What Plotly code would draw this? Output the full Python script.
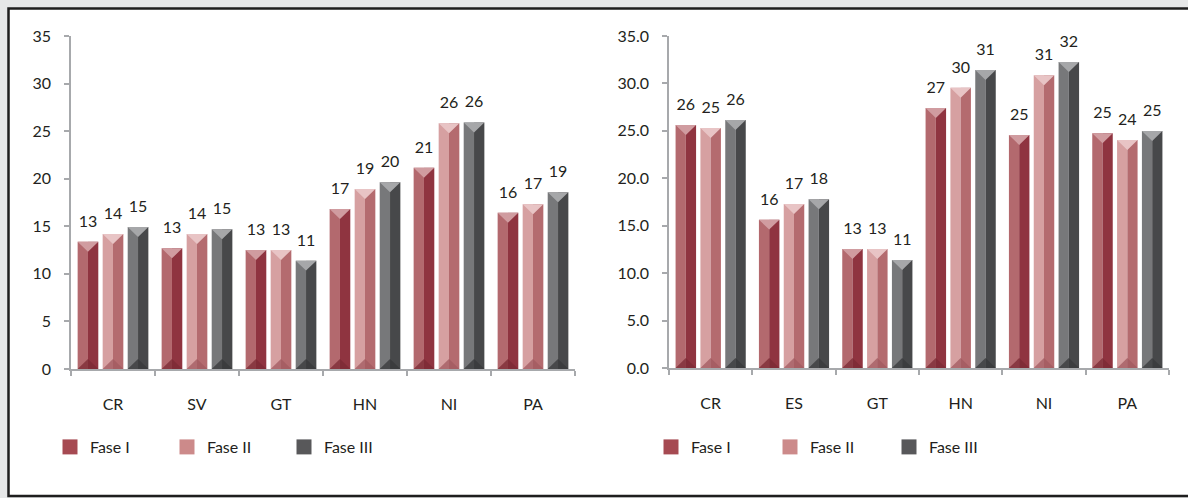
import plotly.graph_objects as go

# ---- data ---------------------------------------------------------------
paises_izq = ["CR", "SV", "GT", "HN", "NI", "PA"]
paises_der = ["CR", "ES", "GT", "HN", "NI", "PA"]
fases = ["Fase I", "Fase II", "Fase III"]

izq_fase1 = [13.38, 12.68, 12.51, 16.82, 21.16, 16.43]
izq_fase2 = [14.19, 14.19, 12.51, 18.92, 25.82, 17.31]
izq_fase3 = [14.93, 14.68, 11.39, 19.62, 25.92, 18.57]

der_fase1 = [25.62, 15.64, 12.55, 27.41, 24.56, 24.74]
der_fase2 = [25.30, 17.29, 12.55, 29.55, 30.85, 24.04]
der_fase3 = [26.14, 17.78, 11.39, 31.41, 32.26, 24.98]

ticks_izq = [0, 5, 10, 15, 20, 25, 30, 35]
ticks_der = [0, 5, 10, 15, 20, 25, 30, 35]

# ---- styling --------------------------------------------------------------
W, H = 1188, 498
TXT = "#231f20"
AXIS = "#a7a9ac"
FONT = "Lato"

# per phase: (left face, right face, top bevel, bottom bevel, legend swatch)
estilos = [
    ("#b3696e", "#8f3440", "#d09ca0", "#7c2a34", "#a64a52"),
    ("#d6a0a1", "#b46b6f", "#e8c4c5", "#a25a60", "#cc8a8a"),
    ("#77787a", "#47484a", "#a6a7a9", "#37383a", "#58585a"),
]

OFFS = [-0.298, 0.0, 0.298]   # bar centre offset inside a category
BW = 0.246                     # bar width (category units)
BEVEL = 1.05                   # bevel depth (value units)


def px_x(p):
    return p / W


def px_y(p):
    return 1 - p / H


fig = go.Figure()


def dibujar(series, xa, ya, legend_id):
    for j, (nombre, vals) in enumerate(zip(fases, series)):
        izq, der, sup, inf, ley = estilos[j]
        cx = [i + OFFS[j] for i in range(len(vals))]
        common = dict(xaxis=xa, yaxis=ya, showlegend=False, hoverinfo="skip")
        # lit and shaded halves of each bar
        fig.add_trace(go.Bar(x=[c - BW / 4 for c in cx], y=vals, width=BW / 2,
                             marker=dict(color=izq, line=dict(width=0)), **common))
        fig.add_trace(go.Bar(x=[c + BW / 4 for c in cx], y=vals, width=BW / 2,
                             marker=dict(color=der, line=dict(width=0)), **common))
        # top and bottom bevels
        tx, ty, bx, by = [], [], [], []
        for c, v in zip(cx, vals):
            tx += [c - BW / 2, c + BW / 2, c, c - BW / 2, None]
            ty += [v, v, v - BEVEL, v, None]
            bx += [c - BW / 2, c, c + BW / 2, c - BW / 2, None]
            by += [0, BEVEL, 0, 0, None]
        fig.add_trace(go.Scatter(x=tx, y=ty, mode="lines", fill="toself",
                                 fillcolor=sup, line=dict(width=0), **common))
        fig.add_trace(go.Scatter(x=bx, y=by, mode="lines", fill="toself",
                                 fillcolor=inf, line=dict(width=0),
                                 opacity=0.75, **common))
        # value labels
        fig.add_trace(go.Scatter(x=cx, y=vals, mode="markers+text",
                                 marker=dict(size=16, color="rgba(0,0,0,0)"),
                                 texttemplate="%{y:.0f}", textposition="top center",
                                 textfont=dict(family=FONT, size=16, color=TXT),
                                 cliponaxis=False, **common))
        # legend swatch
        fig.add_trace(go.Scatter(x=[None], y=[None], name=nombre, mode="markers",
                                 marker=dict(symbol="square", size=15, color=ley),
                                 xaxis=xa, yaxis=ya, legend=legend_id, showlegend=True))


dibujar([izq_fase1, izq_fase2, izq_fase3], "x", "y", "legend")
dibujar([der_fase1, der_fase2, der_fase3], "x2", "y2", "legend2")


def eje_x(dom, cats):
    return dict(domain=dom, range=[-0.5, 5.5], tickmode="array",
                tickvals=list(range(len(cats))), ticktext=cats, ticks="",
                showline=True, linecolor=AXIS, linewidth=1.5, showgrid=False,
                zeroline=False, fixedrange=True, ticklabelstandoff=20,
                automargin=False,
                tickfont=dict(family=FONT, size=16, color=TXT),
                minor=dict(tickvals=[k - 0.5 for k in range(len(cats) + 1)],
                           ticks="outside", ticklen=5, tickcolor=AXIS, tickwidth=1.5))


def eje_y(dom, anchor, vals, fmt):
    return dict(domain=dom, anchor=anchor, range=[0, 35], tickmode="array",
                tickvals=vals, tickformat=fmt, ticks="outside", ticklen=5,
                tickcolor=AXIS, tickwidth=1.5, showline=True, linecolor=AXIS,
                linewidth=1.5, showgrid=False, zeroline=False, ticklabelstandoff=10,
                automargin=False, fixedrange=True,
                tickfont=dict(family=FONT, size=16, color=TXT))


leg = dict(orientation="h", xanchor="left", yanchor="middle", y=px_y(447),
           font=dict(family=FONT, size=16, color=TXT), bgcolor="rgba(0,0,0,0)",
           traceorder="normal", itemsizing="trace")

fig.update_layout(
    width=W, height=H,
    margin=dict(l=0, r=0, t=0, b=0, autoexpand=False),
    paper_bgcolor="#e6e7e8",
    plot_bgcolor="rgba(0,0,0,0)",
    barmode="overlay",
    xaxis=dict(eje_x([px_x(71), px_x(575)], paises_izq), anchor="y"),
    yaxis=eje_y([px_y(369), px_y(36)], "x", ticks_izq, "d"),
    xaxis2=dict(eje_x([px_x(669), px_x(1169)], paises_der), anchor="y2"),
    yaxis2=eje_y([px_y(368), px_y(36)], "x2", ticks_der, ".1f"),
    legend=dict(leg, x=px_x(50), entrywidth=72),
    legend2=dict(leg, x=px_x(651), entrywidth=74),
    shapes=[dict(type="rect", xref="paper", yref="paper",
                 x0=px_x(8.5), x1=1.02, y0=px_y(496), y1=px_y(8.5),
                 fillcolor="white", line=dict(color="#1e1e1e", width=2.5),
                 layer="below")],
)

fig.write_html("out.html")
